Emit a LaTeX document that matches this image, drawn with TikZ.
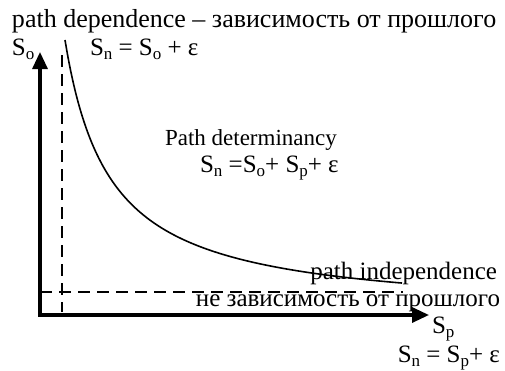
\documentclass[tikz,border=0pt]{standalone}
\usepackage{fontspec}
\setmainfont{Liberation Serif}
\usepackage{tikz}
\usetikzlibrary{arrows.meta, positioning}

\newcommand\lowidx[1]{\raisebox{-4pt}{\fontsize{17}{17}\selectfont #1}}

\begin{document}
\begin{tikzpicture}[
    x=1pt, y=-1pt,
    font=\fontsize{25}{28}\selectfont,
    lbl/.style={inner sep=0pt, outer sep=0pt},
    axis/.style={line width=3.2pt, -{Triangle[length=17pt, width=15pt]}},
    guide/.style={line width=2.8pt, dash pattern=on 12pt off 7pt},
    curve/.style={line width=1.6pt}
]
\useasboundingbox (0,0) rectangle (505,370);

% Axes
\coordinate (origin) at (40,315);
\coordinate (ytip) at (40,52);
\coordinate (xtip) at (429,315);
\draw[axis] ([yshift=-1.6pt]origin) -- (ytip);
\draw[axis] ([xshift=-1.6pt]origin) -- (xtip);

% Dashed limits
\coordinate (vtop) at (62,55);
\coordinate (vbot) at (62,312);
\coordinate (hleft) at (40,292);
\coordinate (hright) at (403,292);
\draw[guide] (vtop) -- (vbot);
\draw[guide] (hleft) -- (hright);

% Curve
\draw[curve] plot[domain=65:402, samples=120, smooth] (\x, {315.5-12398/(\x-20)});

% Labels
\node[lbl, anchor=base west, font=\fontsize{26}{29}\selectfont] (title) at (12,27) {path dependence – зависимость от прошлого};
\node[lbl, anchor=base west] (so) at (12,55) {S\lowidx{o}};
\node[lbl, anchor=base west] (snso) at (90,55) {S\lowidx{n} = S\lowidx{o} + ε};
\node[lbl, anchor=base west, font=\fontsize{23}{26}\selectfont] (pathdet) at (165,145) {Path determinancy};
\node[lbl, anchor=base west] (snall) at (200,172) {S\lowidx{n} =S\lowidx{o}+ S\lowidx{p}+ ε};
\node[lbl, anchor=base east] (indep) at (497,279) {path independence};
\node[lbl, anchor=base east] (indepru) at (500,306) {не зависимость от прошлого};
\node[lbl, anchor=base west] (sp) at (432,333) {S\lowidx{p}};
\node[lbl, anchor=base east] (snsp) at (500,362) {S\lowidx{n} = S\lowidx{p}+ ε};
\end{tikzpicture}
\end{document}
